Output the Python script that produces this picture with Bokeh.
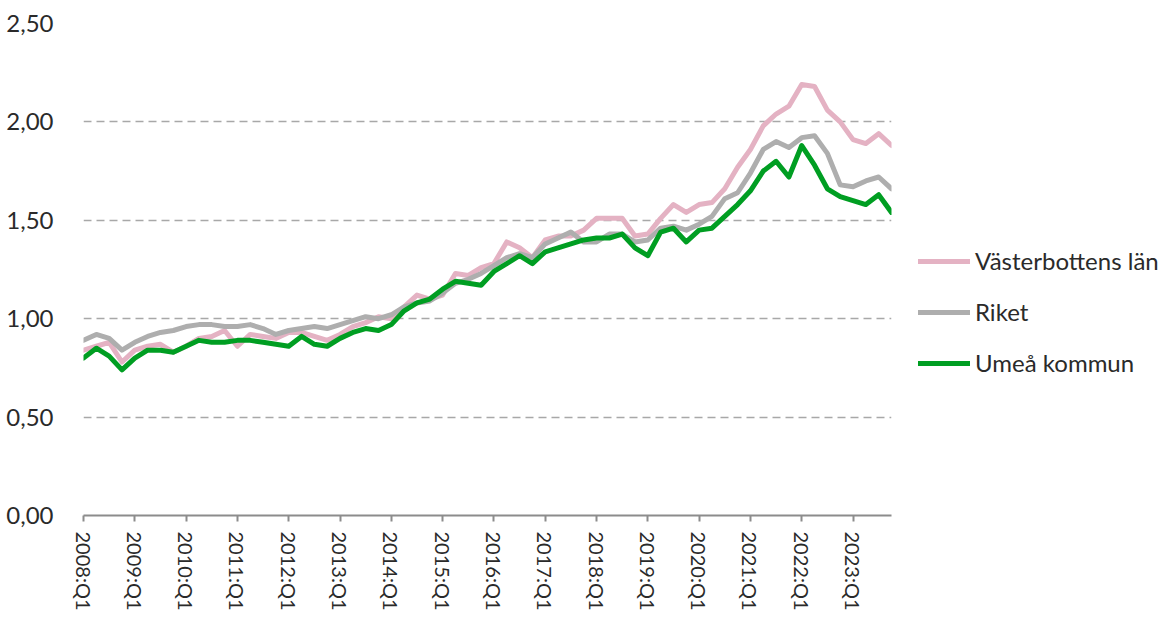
from bokeh.plotting import figure
from bokeh.models import Range1d, FixedTicker, CustomJSTickFormatter, Legend, LegendItem
from bokeh.embed import file_html
from bokeh.resources import INLINE

years = list(range(2008, 2024))
quarters = [f"{y}:Q{q}" for y in years for q in range(1, 5)]

vasterbotten = [0.84, 0.86, 0.88, 0.78, 0.84, 0.86, 0.87, 0.83, 0.86, 0.90, 0.91, 0.94, 0.86, 0.92, 0.91, 0.90,
                0.93, 0.93, 0.91, 0.89, 0.92, 0.96, 0.98, 1.01, 1.00, 1.06, 1.12, 1.10, 1.12, 1.23, 1.22, 1.26,
                1.28, 1.39, 1.36, 1.31, 1.40, 1.42, 1.42, 1.45, 1.51, 1.51, 1.51, 1.42, 1.43, 1.51, 1.58, 1.54,
                1.58, 1.59, 1.66, 1.77, 1.86, 1.98, 2.04, 2.08, 2.19, 2.18, 2.06, 2.00, 1.91, 1.89, 1.94, 1.88]
riket = [0.89, 0.92, 0.90, 0.84, 0.88, 0.91, 0.93, 0.94, 0.96, 0.97, 0.97, 0.96, 0.96, 0.97, 0.95, 0.92,
         0.94, 0.95, 0.96, 0.95, 0.97, 0.99, 1.01, 1.00, 1.02, 1.06, 1.08, 1.09, 1.13, 1.18, 1.20, 1.23,
         1.27, 1.31, 1.33, 1.31, 1.38, 1.41, 1.44, 1.39, 1.39, 1.43, 1.43, 1.39, 1.40, 1.46, 1.47, 1.45,
         1.48, 1.52, 1.61, 1.64, 1.74, 1.86, 1.90, 1.87, 1.92, 1.93, 1.84, 1.68, 1.67, 1.70, 1.72, 1.66]
umea = [0.80, 0.85, 0.81, 0.74, 0.80, 0.84, 0.84, 0.83, 0.86, 0.89, 0.88, 0.88, 0.89, 0.89, 0.88, 0.87,
        0.86, 0.91, 0.87, 0.86, 0.90, 0.93, 0.95, 0.94, 0.97, 1.04, 1.08, 1.10, 1.15, 1.19, 1.18, 1.17,
        1.24, 1.28, 1.32, 1.28, 1.34, 1.36, 1.38, 1.40, 1.41, 1.41, 1.43, 1.36, 1.32, 1.44, 1.46, 1.39,
        1.45, 1.46, 1.52, 1.58, 1.65, 1.75, 1.80, 1.72, 1.88, 1.78, 1.66, 1.62, 1.60, 1.58, 1.63, 1.54]

series_names = ["Västerbottens län", "Riket", "Umeå kommun"]
series_colors = ["#E4B2C3", "#AEAEAE", "#009E22"]
y_ticks = [0, 0.5, 1.0, 1.5, 2.0, 2.5]

FONT = "Lato"
TXT = "#2A2A2A"

x = list(range(len(quarters)))

p = figure(frame_width=808, frame_height=492, output_backend="svg", toolbar_location=None,
           x_range=Range1d(0, len(quarters) - 1), y_range=Range1d(0, 2.5),
           min_border_left=83, min_border_top=23, min_border_bottom=5, min_border_right=0,
           outline_line_color=None, background_fill_color="white", border_fill_color="white")

renderers = []
for data, col in zip([vasterbotten, riket, umea], series_colors):
    r = p.line(x, data, line_color=col, line_width=5, line_join="round", line_cap="round")
    renderers.append(r)

# Y axis
p.yaxis.ticker = FixedTicker(ticks=y_ticks)
p.yaxis.formatter = CustomJSTickFormatter(code="return tick.toFixed(2).replace('.', ',');")
p.yaxis.axis_line_color = None
p.yaxis.major_tick_line_color = None
p.yaxis.minor_tick_line_color = None
p.yaxis.major_label_standoff = 24
p.yaxis.major_label_text_font = FONT
p.yaxis.major_label_text_font_size = "24px"
p.yaxis.major_label_text_color = TXT

# X axis
p.xaxis.ticker = FixedTicker(ticks=list(range(0, len(quarters), 4)))
p.xaxis.formatter = CustomJSTickFormatter(args=dict(labels=quarters),
                                          code="return labels[Math.round(tick)] || '';")
p.xaxis.major_label_orientation = "vertical"
p.xaxis.axis_line_color = "#8C8C8C"
p.xaxis.axis_line_width = 2
p.xaxis.major_tick_line_color = "#8C8C8C"
p.xaxis.major_tick_line_width = 2
p.xaxis.major_tick_out = 6
p.xaxis.major_tick_in = 0
p.xaxis.minor_tick_line_color = None
p.xaxis.major_label_standoff = 10
p.xaxis.major_label_text_font = FONT
p.xaxis.major_label_text_font_size = "20px"
p.xaxis.major_label_text_color = TXT

# Grid
p.xgrid.grid_line_color = None
p.ygrid.ticker = FixedTicker(ticks=y_ticks[1:])
p.ygrid.grid_line_color = "#A8A8A8"
p.ygrid.grid_line_width = 1.5
p.ygrid.grid_line_dash = "8 5"

legend = Legend(items=[LegendItem(label=n, renderers=[r]) for n, r in zip(series_names, renderers)],
                location=(27, 138), orientation="vertical",
                label_text_font=FONT, label_text_font_size="24px", label_text_color=TXT,
                glyph_width=52, glyph_height=24, label_height=24, label_standoff=5,
                spacing=22, padding=0, margin=0, border_line_color=None,
                background_fill_alpha=0)
p.add_layout(legend, "right")

open("out.html", "w").write(file_html(p, INLINE))
